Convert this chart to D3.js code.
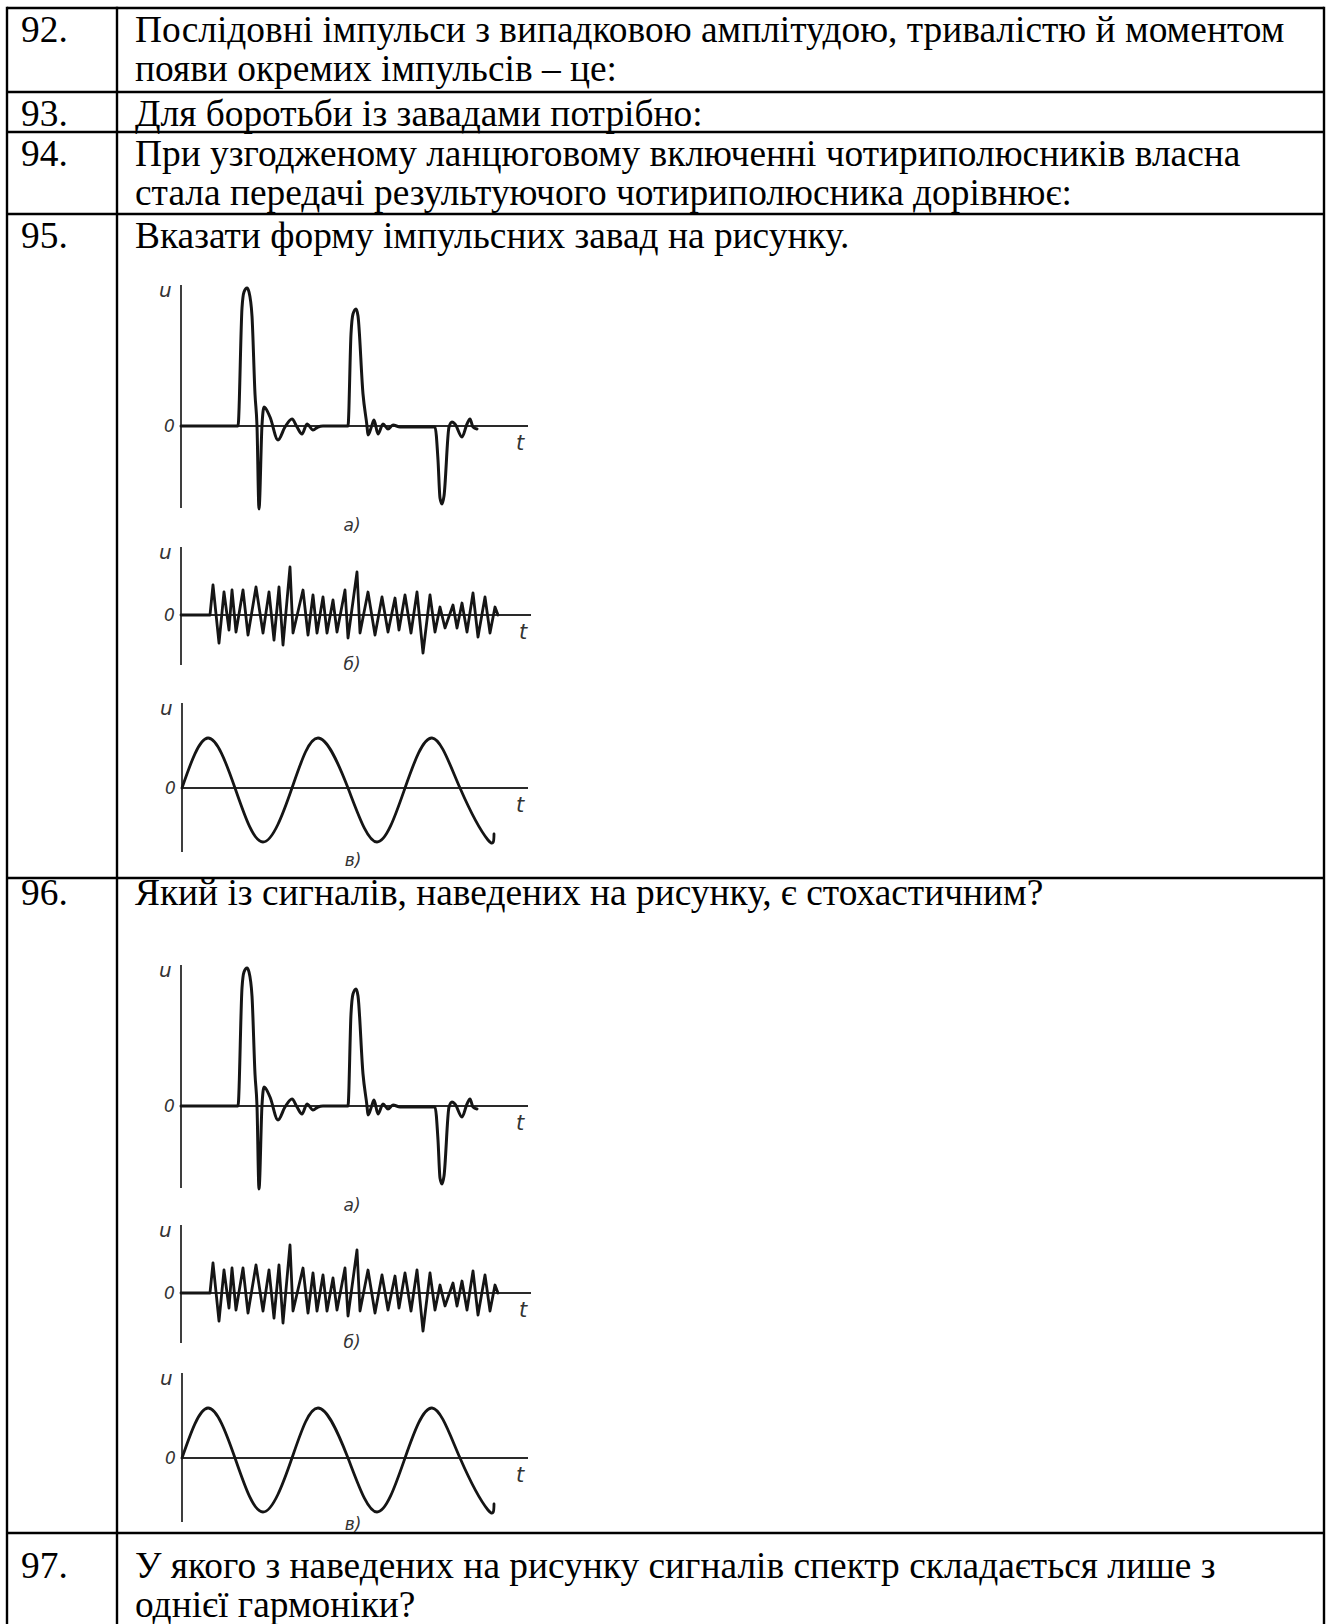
<!DOCTYPE html>
<html>
<head>
<meta charset="utf-8">
<title>Завади</title>
<script src="https://cdnjs.cloudflare.com/ajax/libs/d3/7.8.5/d3.min.js"></script>
<style>
  body { margin: 0; background: #fff; }
</style>
</head>
<body>
<script>
// --- data ---
var numbers = ["92.", "93.", "94.", "95.", "96.", "97."];
var questions = [
  ["Послідовні імпульси з випадковою амплітудою, тривалістю й моментом",
   "появи окремих імпульсів – це:"],
  ["Для боротьби із завадами потрібно:"],
  ["При узгодженому ланцюговому включенні чотириполюсників власна",
   "стала передачі результуючого чотириполюсника дорівнює:"],
  ["Вказати форму імпульсних завад на рисунку."],
  ["Який із сигналів, наведених на рисунку, є стохастичним?"],
  ["У якого з наведених на рисунку сигналів спектр складається лише з",
   "однієї гармоніки?"]
];
var axisLabels = ["u", "0", "t"];
var captions = ["а)", "б)", "в)"];

// а) impulse noise: time / amplitude (arbitrary units)
var pulseT = [0, 57, 61, 63, 66, 68, 71, 74, 76, 78, 81, 83, 89, 97, 104, 111, 116, 121, 126, 132, 137, 142,
              167, 170, 172, 175, 177, 182, 186, 187, 191, 193, 197, 202, 207, 212, 219,
              254, 257, 259, 261, 263, 268, 271, 274, 281, 286, 289, 292, 296];
var pulseU = [0, 0, 118, 134, 138, 134, 110, 32, 0, -83, 1, 19, 9, -14, -1, 7, -1, -8, 2, -4, -1, 0,
              0, 92, 112, 117, 110, 32, 0, -9, 1, 6, -8, 2, -3, 1, -1,
              -1, -34, -72, -78, -70, -1, 4, 2, -11, 2, 7, -1, -3];

// б) fluctuation noise: alternating extrema
var noiseT = [0, 29, 32, 38, 43, 48, 51, 55, 62, 67, 75, 82, 88, 93, 98, 102, 109, 112, 122, 127,
              132, 136, 142, 146, 152, 156, 164, 167, 176, 179, 187, 194, 201, 207, 214, 218,
              224, 230, 236, 242, 249, 254, 259, 264, 272, 276, 281, 286, 292, 297, 304, 309, 314, 317];
var noiseU = [0, 0, 30, -28, 23, -15, 25, -17, 25, -20, 28, -18, 23, -25, 28, -30, 48, -18, 25, -20,
              20, -18, 18, -18, 15, -17, 25, -23, 43, -18, 23, -20, 18, -17, 17, -15,
              20, -18, 23, -38, 20, -17, 8, -13, 10, -13, 12, -17, 22, -22, 18, -18, 8, 0];

// в) harmonic signal: zero crossings and extrema
var sineT = [0, 26, 53, 81, 110, 136, 166, 195, 223, 250, 278, 306, 312];
var sineU = [0, 50, 0, -54, 0, 50, 0, -54, 0, 50, 0, -52, -46];

// --- layout ---
var W = 1328, H = 1624;
var colX = [7, 117, 1324];
var rowY = [8, 92, 132, 214, 878, 1533];
var rowBase = [34, 34, 34, 34, 27, 45];
var lineGap = 39;
var serif = "'Liberation Serif', 'Times New Roman', serif";

var svg = d3.select("body").append("svg")
  .attr("width", W)
  .attr("height", H);

// table text
numbers.forEach(function(n, i) {
  svg.append("text")
    .attr("x", 21)
    .attr("y", rowY[i] + rowBase[i])
    .attr("font-family", serif)
    .attr("font-size", 37.4)
    .text(n);
  questions[i].forEach(function(s, j) {
    svg.append("text")
      .attr("x", 135)
      .attr("y", rowY[i] + rowBase[i] + j * lineGap)
      .attr("font-family", serif)
      .attr("font-size", 37.4)
      .text(s);
  });
});

// table grid
var grid = svg.append("g").attr("stroke", "#000").attr("stroke-width", 2.4);
rowY.forEach(function(y) {
  grid.append("line").attr("x1", colX[0]).attr("x2", colX[2]).attr("y1", y).attr("y2", y);
});
colX.forEach(function(x) {
  grid.append("line").attr("x1", x).attr("x2", x).attr("y1", rowY[0] - 1.2).attr("y2", H);
});

// one signal panel
function drawPanel(g, t, u, spec) {
  var x = d3.scaleLinear().domain([0, 350]).range([0, 350]);
  var y = d3.scaleLinear().domain([-100, 150]).range([100, -150]);

  g.append("line")
    .attr("x1", x(0)).attr("x2", x(0))
    .attr("y1", y(spec.top)).attr("y2", y(spec.bottom))
    .attr("stroke", "#2a2a2a").attr("stroke-width", 1.8);
  g.append("line")
    .attr("x1", x(0)).attr("x2", x(spec.right))
    .attr("y1", y(0)).attr("y2", y(0))
    .attr("stroke", "#2a2a2a").attr("stroke-width", 1.8);

  var line = d3.line()
    .x(function(d, i) { return x(t[i]); })
    .y(function(d, i) { return y(u[i]); })
    .curve(spec.curve);
  g.append("path")
    .attr("d", line(t))
    .attr("fill", "none")
    .attr("stroke", "#151515")
    .attr("stroke-width", spec.width)
    .attr("stroke-linejoin", "round")
    .attr("stroke-linecap", "round");

  var lab = g.append("g")
    .attr("font-family", "'DejaVu Sans', sans-serif")
    .attr("font-style", "italic")
    .attr("fill", "#333");
  lab.append("text").attr("x", x(-22)).attr("y", y(spec.top - 12)).attr("font-size", 20).text(axisLabels[0]);
  lab.append("text").attr("x", x(-17)).attr("y", y(-6)).attr("font-size", 17).text(axisLabels[1]);
  lab.append("text").attr("x", x(spec.right - 12)).attr("y", y(-24)).attr("font-size", 21).text(axisLabels[2]);
  lab.append("text").attr("x", x(spec.capX)).attr("y", y(spec.capY)).attr("font-size", 17)
    .attr("text-anchor", "middle").text(spec.caption);
}

// two copies of the figure: rows 95 and 96
var figs = [
  { a: [181, 426], b: [181, 615], c: [182, 788], capC: -78 },
  { a: [181, 1106], b: [181, 1293], c: [182, 1458], capC: -72 }
];

figs.forEach(function(f) {
  drawPanel(svg.append("g").attr("transform", "translate(" + f.a + ")"),
    pulseT, pulseU,
    { top: 141, bottom: -82, right: 347, curve: d3.curveMonotoneX, width: 3,
      caption: captions[0], capX: 171, capY: -105 });
  drawPanel(svg.append("g").attr("transform", "translate(" + f.b + ")"),
    noiseT, noiseU,
    { top: 68, bottom: -50, right: 350, curve: d3.curveLinear, width: 2.8,
      caption: captions[1], capX: 171, capY: -55 });
  drawPanel(svg.append("g").attr("transform", "translate(" + f.c + ")"),
    sineT, sineU,
    { top: 85, bottom: -64, right: 346, curve: d3.curveNatural, width: 2.8,
      caption: captions[2], capX: 171, capY: f.capC });
});
</script>
</body>
</html>
